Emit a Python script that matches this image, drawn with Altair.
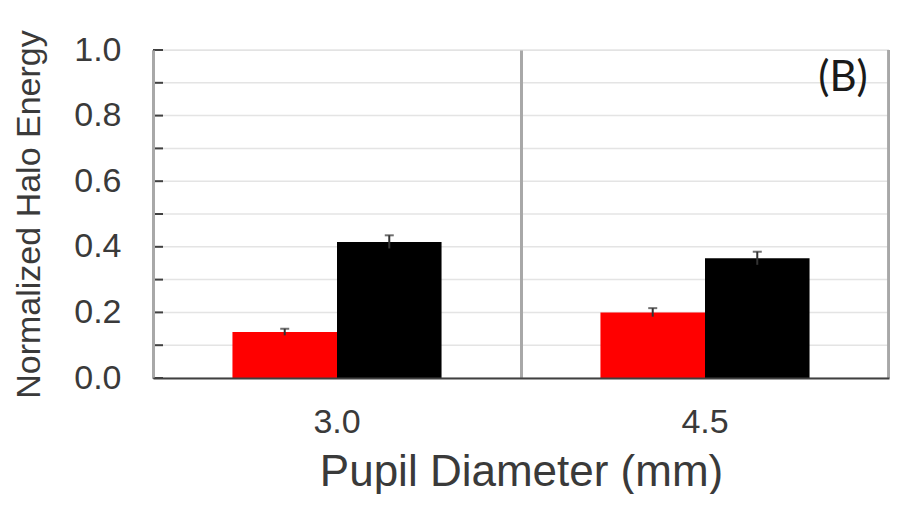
import altair as alt
import pandas as pd

# ---- data ----
diameters = ["3.0", "4.5"]
series = ["Red", "Black"]
red_values = [0.14, 0.20]
black_values = [0.415, 0.365]
red_err = [0.010, 0.013]
black_err = [0.020, 0.020]
y_tick_values = [0.0, 0.1, 0.2, 0.3, 0.4, 0.5, 0.6, 0.7, 0.8, 0.9, 1.0]
y_label_values = [0.0, 0.2, 0.4, 0.6, 0.8, 1.0]
panel_label = "(B)"

rows = []
for i, d in enumerate(diameters):
    rows.append({"diameter": d, "series": "Red", "value": red_values[i], "err": red_err[i]})
    rows.append({"diameter": d, "series": "Black", "value": black_values[i], "err": black_err[i]})
df = pd.DataFrame(rows)
df["top"] = df["value"] + df["err"]
df["low"] = df["value"] - df["err"]

ticks_df = pd.DataFrame({"v": y_tick_values})

W, H = 736, 328
AX = "Liberation Sans"

x_axis = alt.Axis(
    title="Pupil Diameter (mm)",
    labelAngle=0,
    labelFont=AX,
    labelFontSize=34,
    labelColor="#3a3a3a",
    labelPadding=27,
    tickSize=0,
    domainColor="#404040",
    domainWidth=2,
    grid=True,
    bandPosition=0,
    gridColor="#a8a8a8",
    gridWidth=3,
    titleFont=AX,
    titleFontSize=44,
    titleFontWeight="normal",
    titleColor="#3a3a3a",
    titlePadding=11,
    zindex=1,
)
x_scale = alt.Scale(paddingInner=0, paddingOuter=0)
xo_scale = alt.Scale(domain=series, paddingInner=0, paddingOuter=0.76)
y_scale = alt.Scale(domain=[0, 1], nice=False)
y_axis = alt.Axis(
    title="Normalized Halo Energy",
    values=y_label_values,
    format=".1f",
    labelFont=AX,
    labelFontSize=34,
    labelColor="#3a3a3a",
    labelPadding=32,
    tickSize=0,
    grid=False,
    domainColor="#404040",
    domainWidth=2,
    titleFont=AX,
    titleFontSize=34,
    titleFontWeight="normal",
    titleColor="#3a3a3a",
    titlePadding=27,
)

grid = alt.Chart(ticks_df).mark_rule(color="#e4e4e4", strokeWidth=1.5).encode(
    y=alt.Y("v:Q", scale=y_scale, axis=y_axis),
    x=alt.value(0),
    x2=alt.value(W),
)

inner_ticks = alt.Chart(ticks_df).mark_rule(color="#404040", strokeWidth=2).encode(
    y=alt.Y("v:Q", scale=y_scale, axis=y_axis),
    x=alt.value(0),
    x2=alt.value(10),
)

bars = alt.Chart(df).mark_bar().encode(
    x=alt.X("diameter:N", sort=diameters, scale=x_scale, axis=x_axis),
    xOffset=alt.XOffset("series:N", sort=series, scale=xo_scale),
    y=alt.Y("value:Q", scale=y_scale, axis=y_axis),
    color=alt.Color(
        "series:N",
        scale=alt.Scale(domain=series, range=["#ff0000", "#000000"]),
        legend=None,
    ),
)

err_rule = alt.Chart(df).mark_rule(color="#333333", strokeWidth=2).encode(
    x=alt.X("diameter:N", sort=diameters, scale=x_scale, axis=x_axis),
    xOffset=alt.XOffset("series:N", sort=series, scale=xo_scale),
    y=alt.Y("low:Q", scale=y_scale, axis=y_axis),
    y2="top:Q",
)

err_cap = alt.Chart(df).mark_tick(color="#333333", thickness=2, size=9, orient="horizontal").encode(
    x=alt.X("diameter:N", sort=diameters, scale=x_scale, axis=x_axis),
    xOffset=alt.XOffset("series:N", sort=series, scale=xo_scale),
    y=alt.Y("top:Q", scale=y_scale, axis=y_axis),
)

right_edge = alt.Chart(df).mark_rule(color="#a8a8a8", strokeWidth=3).encode(
    x=alt.value(W),
    y=alt.value(0),
    y2=alt.value(H),
)

label = alt.Chart(pd.DataFrame({"t": [panel_label]})).mark_text(
    font="Lato", fontSize=42, color="#1a1a1a", align="center", baseline="alphabetic"
).encode(
    text="t:N",
    x=alt.value(690),
    y=alt.value(41),
)

chart = (
    alt.layer(grid, bars, err_rule, err_cap, inner_ticks, right_edge, label)
    .properties(
        width=W,
        height=H,
        autosize=alt.AutoSizeParams(type="none"),
        padding={"left": 145, "top": 42, "right": 1, "bottom": 116},
    )
    .configure_view(stroke=None)
    .configure(background="white")
)

chart.save("out.html", embed_options={"renderer": "svg", "actions": False})
